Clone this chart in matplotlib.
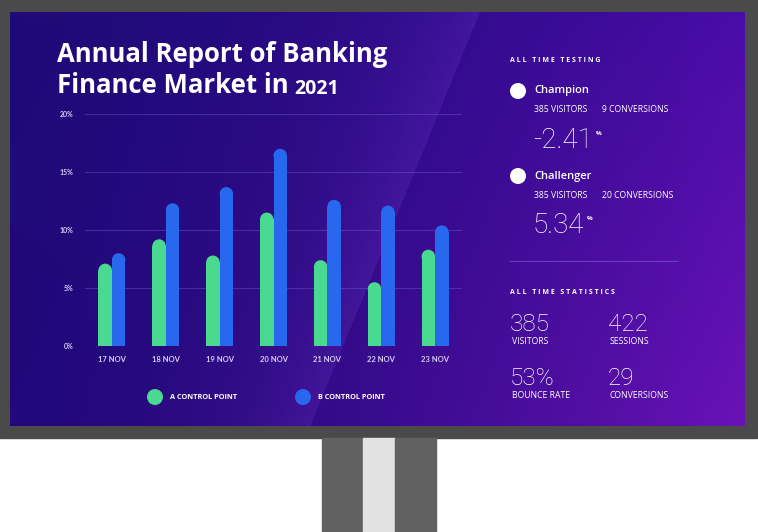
import numpy as np
import matplotlib
matplotlib.use("Agg")
import matplotlib.pyplot as plt
from matplotlib.patches import Rectangle, Circle, Ellipse

# ---- data ----
days = ["17 NOV", "18 NOV", "19 NOV", "20 NOV", "21 NOV", "22 NOV", "23 NOV"]
control_a = [7.1, 9.2, 7.8, 11.5, 7.4, 5.5, 8.3]
control_b = [8.0, 12.3, 13.7, 17.0, 12.6, 12.1, 10.4]
y_ticks = [0, 5, 10, 15, 20]
y_labels = ["0%", "5%", "10%", "15%", "20%"]

testing = [("Champion", "385 VISITORS", "9 CONVERSIONS", "-2.41"),
           ("Challenger", "385 VISITORS", "20 CONVERSIONS", "5.34")]
stats = [("385", "VISITORS"), ("422", "SESSIONS"),
         ("53%", "BOUNCE RATE"), ("29", "CONVERSIONS")]

GREEN = "#4ad991"
BLUE = "#2868ee"
LAV = "#d6cef4"
W, H = 758, 532

fig = plt.figure(figsize=(W / 100, H / 100), dpi=100)
fig.patch.set_facecolor("white")

# overlay in pixel coords (y down)
bg = fig.add_axes([0, 0, 1, 1])
bg.set_xlim(0, W)
bg.set_ylim(H, 0)
bg.axis("off")

# monitor bezel + stand
bg.add_patch(Rectangle((0, 0), 757, 438, color="#4a4a4a", zorder=0))
bg.add_patch(Rectangle((322, 438), 41, 94, color="#616161", zorder=0))
bg.add_patch(Rectangle((363, 438), 32, 94, color="#e2e2e2", zorder=0))
bg.add_patch(Rectangle((395, 438), 41, 94, color="#616161", zorder=0))

# screen gradient with glossy streak
sx0, sx1, sy0, sy1 = 10, 745, 12, 426
gw, gh = sx1 - sx0, sy1 - sy0
xx, yy = np.meshgrid(np.linspace(0, 1, gw), np.linspace(0, 1, gh))
tl = np.array([31, 10, 120]); tr = np.array([74, 12, 168])
bl = np.array([34, 8, 122]); br = np.array([106, 18, 184])
u = xx[..., None] ** 1.6
v = yy[..., None]
img = (tl * (1 - u) * (1 - v) + tr * u * (1 - v) + bl * (1 - u) * v + br * u * v)
px = xx * gw + sx0
py = yy * gh + sy0
edge = 480 - (py - 12) * (170 / 415)
d = edge - px
glow = np.where(d > 0, 14 * np.exp(-d / 70), 0)
img = img + glow[..., None] * np.array([1.0, 0.8, 1.1])
img = np.clip(img, 0, 255) / 255
bg.imshow(img, extent=(sx0, sx1, sy1, sy0), aspect="auto", zorder=1)

# title
TF = "Open Sans"
bg.text(57, 62, "Annual Report of Banking", color="white", fontsize=18.5,
        fontweight="bold", family=TF, va="baseline", zorder=3)
t2 = bg.text(57, 93, "Finance Market in", color="white", fontsize=18.5,
             fontweight="bold", family=TF, va="baseline", zorder=3)
bg.annotate("2021", xy=(1, 0), xycoords=t2, xytext=(4, 0), textcoords="offset points",
            color="white", fontsize=14, fontweight="bold", family=TF,
            va="bottom", zorder=3)

# ---- bar chart ----
ax = fig.add_axes([85 / W, 1 - 346 / H, (462 - 85) / W, (346 - 114) / H])
ax.set_facecolor("none")
ax.set_xlim(-0.5, len(days) - 0.5)
ax.set_ylim(0, 20)
for s in ax.spines.values():
    s.set_visible(False)
ax.set_yticks(y_ticks)
ax.set_yticklabels(y_labels)
ax.set_xticks(range(len(days)))
ax.set_xticklabels(days)
ax.tick_params(length=0, colors=LAV)
ax.tick_params(axis="y", pad=8, labelsize=5)
ax.tick_params(axis="x", pad=7, labelsize=5.5)
for lab in ax.get_xticklabels() + ax.get_yticklabels():
    lab.set_fontweight("bold")
    lab.set_family("Lato")
ax.grid(axis="y", color="#6a58c8", alpha=0.45, linewidth=0.8)
ax.set_axisbelow(True)

bw = 0.25
px_per_y = (346 - 114) / 20
px_per_x = (462 - 85) / len(days)
r = (bw * px_per_x / 2) / px_per_y
x = np.arange(len(days))
for vals, off, col in [(control_a, -bw / 2, GREEN), (control_b, bw / 2, BLUE)]:
    ax.bar(x + off, [vv - r for vv in vals], width=bw, color=col,
           linewidth=0, zorder=2)
    for xi, vv in zip(x + off, vals):
        ax.add_patch(Ellipse((xi, vv - r), bw, 2 * r, facecolor=col,
                             linewidth=0, zorder=2))

# legend
for cx, lab, col in [(155, "A CONTROL POINT", GREEN), (303, "B CONTROL POINT", BLUE)]:
    bg.add_patch(Circle((cx, 397), 8, facecolor=col, linewidth=0, zorder=3))
    bg.text(cx + 15, 397.5, lab, color="white", fontsize=5.3, fontweight="bold",
            family="Open Sans", va="center", zorder=3)

# ---- right panel ----
RF = "Open Sans"
NF = "Roboto"
bg.text(510, 61, "A L L   T I M E   T E S T I N G", color="white", fontsize=5,
        fontweight="bold", family=RF, va="center", zorder=3)
for i, (name, vis, conv, pct) in enumerate(testing):
    y0 = 91 + i * 85
    bg.add_patch(Circle((518, y0), 8, facecolor="white", linewidth=0, zorder=3))
    bg.text(534, y0, name, color="white", fontsize=8, fontweight="semibold",
            family=RF, va="center", zorder=3)
    bg.text(534, y0 + 19, vis, color="white", fontsize=6.2, family=RF,
            fontweight="medium", va="center", zorder=3)
    bg.text(602, y0 + 19, conv, color="white", fontsize=6.2, family=RF,
            fontweight="medium", va="center", zorder=3)
    t = bg.text(533, y0 + 57, pct, color="white", fontsize=20, fontweight="light",
                family=NF, va="baseline", zorder=3)
    bg.annotate("%", xy=(1, 1), xycoords=t, xytext=(2, -3), textcoords="offset points",
                color="white", fontsize=4.5, fontweight="bold", family=RF,
                va="top", zorder=3)

bg.plot([510, 678], [261, 261], color="#7a55d0", linewidth=0.8, alpha=0.7, zorder=3)

bg.text(510, 292, "A L L   T I M E   S T A T I S T I C S", color="white", fontsize=5,
        fontweight="bold", family=RF, va="center", zorder=3)
for i, (num, lab) in enumerate(stats):
    cx = 510 + (i % 2) * 98
    cy = 331 + (i // 2) * 54
    bg.text(cx, cy, num, color="white", fontsize=17.5, fontweight="light",
            family=NF, va="baseline", zorder=3)
    bg.text(cx + 2, cy + 10, lab, color="white", fontsize=6.2, family=RF,
            fontweight="medium", va="center", zorder=3)

fig.savefig("out.png", dpi=100, facecolor=fig.get_facecolor())
